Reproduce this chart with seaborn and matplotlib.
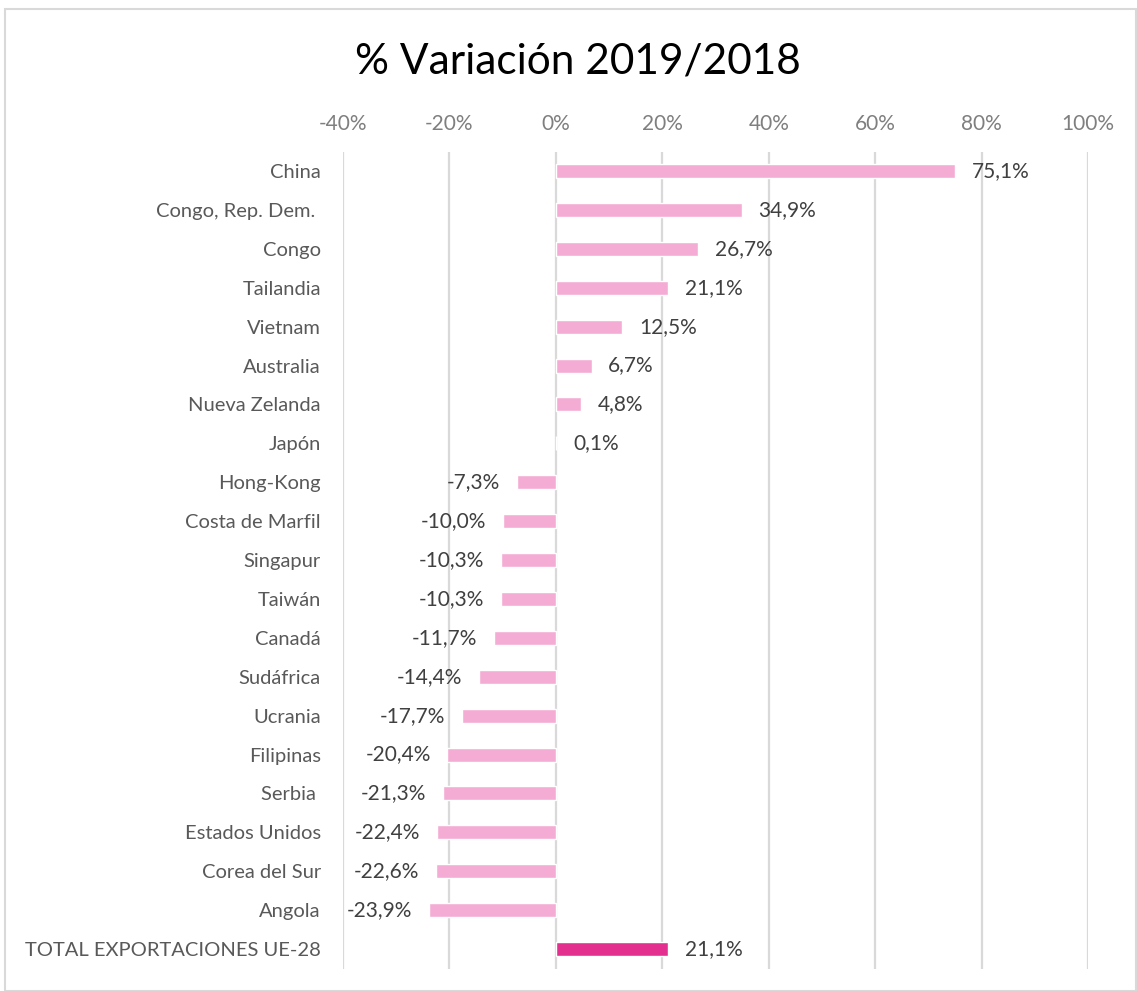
import matplotlib.pyplot as plt
import matplotlib.patches as patches
import pandas as pd
import seaborn as sns

countries = [
    "China", "Congo, Rep. Dem. ", "Congo", "Tailandia", "Vietnam", "Australia",
    "Nueva Zelanda", "Japón", "Hong-Kong", "Costa de Marfil", "Singapur",
    "Taiwán", "Canadá", "Sudáfrica", "Ucrania", "Filipinas", "Serbia ",
    "Estados Unidos", "Corea del Sur", "Angola", "TOTAL EXPORTACIONES UE-28",
]
variation = [
    75.1, 34.9, 26.7, 21.1, 12.5, 6.7, 4.8, 0.1, -7.3, -10.0, -10.3,
    -10.3, -11.7, -14.4, -17.7, -20.4, -21.3, -22.4, -22.6, -23.9, 21.1,
]
kind = ["país"] * 20 + ["total"]
x_ticks = [-40, -20, 0, 20, 40, 60, 80, 100]

df = pd.DataFrame({"pais": countries, "var": variation, "tipo": kind})

sns.set_style("white")
plt.rcParams["font.family"] = ["Lato", "DejaVu Sans"]

fig = plt.figure(figsize=(11.37, 9.91), dpi=100)
ax = fig.add_axes([0.3017, 0.0227, 0.6552, 0.8243])

sns.barplot(
    data=df, x="var", y="pais", hue="tipo", orient="h",
    palette={"país": "#F4ACD4", "total": "#E3308F"}, saturation=1,
    dodge=False, legend=False, width=0.36, ax=ax, zorder=3,
)

for cont in ax.containers:
    labels = [f"{v:.1f}%".replace(".", ",") for v in cont.datavalues]
    ax.bar_label(cont, labels=labels, padding=12, fontsize=15, color="#404040")

ax.set_xlim(-40, 100)
ax.set_ylim(20.5, -0.5)
ax.set_xticks(x_ticks)
ax.set_xticklabels([f"{t}%" for t in x_ticks])
ax.xaxis.tick_top()
ax.tick_params(axis="x", length=0, pad=13, labelsize=15, labelcolor="#7F7F7F")
ax.tick_params(axis="y", length=0, pad=16, labelsize=14.5, labelcolor="#595959")
ax.grid(axis="x", color="#D9D9D9", linewidth=1.6, zorder=0)
ax.set_axisbelow(True)
sns.despine(ax=ax, left=True, bottom=True, top=True, right=True)
ax.set_xlabel("")
ax.set_ylabel("")

fig.text(0.508, 0.938, "% Variación 2019/2018", ha="center", va="center",
         fontsize=30.5, color="black")
fig.patches.append(patches.Rectangle((0.004, 0.0), 0.995, 0.991, transform=fig.transFigure,
                                     fill=False, edgecolor="#D9D9D9", linewidth=1.5))

fig.savefig("out.png", dpi=100)
